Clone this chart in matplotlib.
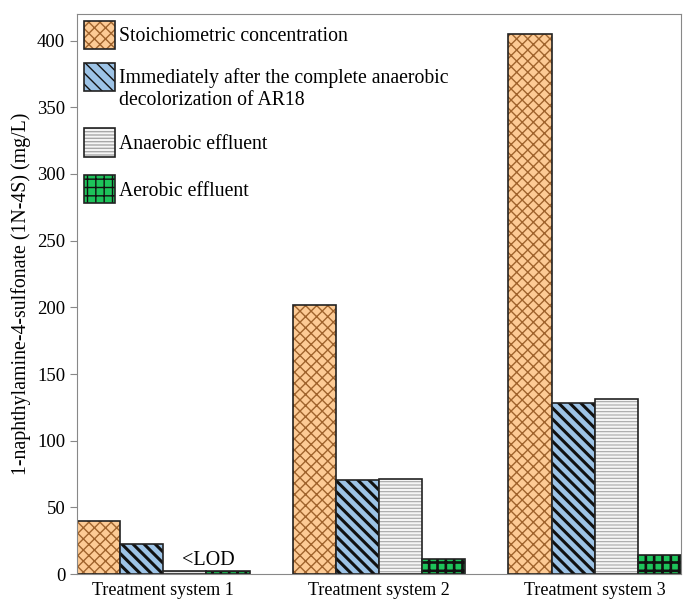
import numpy as np
import matplotlib.pyplot as plt

plt.rcParams['font.family'] = 'Liberation Serif'

systems = ['Treatment system 1', 'Treatment system 2', 'Treatment system 3']
stoich = [40, 202, 405]
after_decol = [22.5, 70.5, 128]
anaerobic = [2, 71, 131.5]
aerobic = [2, 11, 14.5]

# label, values, face colour, hatch colour, hatch, hatch line width
series = [
    ('Stoichiometric concentration', stoich, '#FDCB95', '#A0642D', 'xxx', 1.0),
    ('Immediately after the complete anaerobic\ndecolorization of AR18', after_decol, '#9DC3E6', '#111111', '\\\\\\', 2.2),
    ('Anaerobic effluent', anaerobic, '#F6F6F6', '#A8A8A8', '-----', 0.8),
    ('Aerobic effluent', aerobic, '#1DC35A', '#111111', '++', 1.9),
]

fig = plt.figure(figsize=(6.83, 6.0), dpi=100)
ax = fig.add_axes([0.1127, 0.0433, 0.8843, 0.9334])

index = np.arange(len(systems))
width = 0.2
handles, labels = [], []
for i, (label, vals, face, hcol, hatch, hlw) in enumerate(series):
    x = index + (i - 1.5) * width
    # hatch drawn in its own colour, black outline on top
    with plt.rc_context({'hatch.linewidth': hlw}):
        fill = ax.bar(x, vals, width, color=face, edgecolor=hcol, hatch=hatch, linewidth=0)
    edge = ax.bar(x, vals, width, fill=False, edgecolor='#222222', linewidth=1.2)
    handles.append((fill, edge))
    labels.append(label)

ax.text(index[0] + 0.21, 10.5, '<LOD', ha='center', va='center', fontsize=14.5)

ax.set_xlim(-0.4, 2.4)
ax.set_ylim(0, 420)
ax.set_xticks(index)
ax.set_xticklabels(systems, fontsize=13)
ax.tick_params(axis='x', length=0, pad=6)
ax.tick_params(axis='y', labelsize=13.5, length=5, color='#888888')
ax.set_yticks(np.arange(0, 401, 50))
for s in ax.spines.values():
    s.set_color('#888888')
ax.set_ylabel('1-naphthylamine-4-sulfonate (1N-4S) (mg/L)', fontsize=14.3, labelpad=4)

leg = ax.legend(handles, labels, loc='upper left', frameon=False, fontsize=14.2,
                handlelength=1.57, handleheight=1.81, labelspacing=0.96,
                handletextpad=0.2, borderaxespad=0.2, borderpad=0.15)

# lift the two-line entry's patch to sit beside its first line
try:
    box = leg._legend_handle_box.get_children()[0].get_children()[1].get_children()[0]
    for p in box.get_children():
        p.set_y(p.get_y() + 9)
except Exception:
    pass

fig.savefig('out.png', dpi=100)
